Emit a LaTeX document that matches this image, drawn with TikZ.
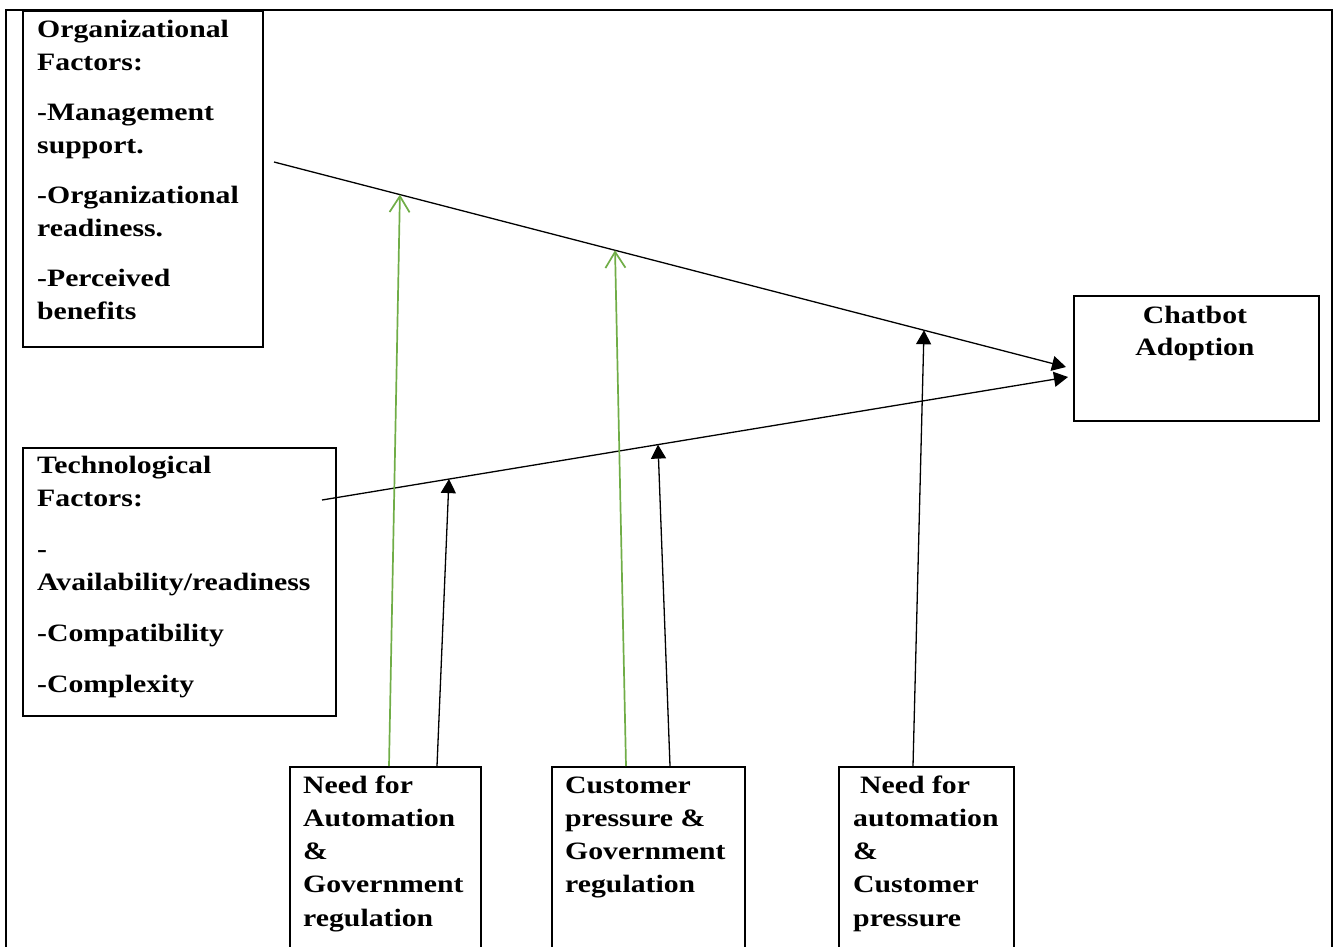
\documentclass[tikz,border=0pt]{standalone}
\usepackage{fontspec}
\setmainfont{Liberation Serif}[FakeStretch=1.19]
\usetikzlibrary{arrows.meta,calc}
\definecolor{ggreen}{RGB}{112,173,71}
\begin{document}
\begin{tikzpicture}[x=1pt,y=-1pt,
  box/.style={draw,line width=2pt,inner sep=0pt,anchor=north west},
  txt/.style={anchor=base west,inner sep=0pt},
  blk/.style={line width=1.3pt,-{Triangle[length=14pt,width=15pt]}},
  grn/.style={draw=ggreen,line width=1.7pt,-{Straight Barb[length=16pt,width=20pt,line width=1.7pt]}}]
\clip (0,0) rectangle (1335,947);
% outer frame
\draw[line width=2pt] (6,980) -- (6,10) -- (1332,10) -- (1332,980);
% boxes
\node[box,minimum width=240pt,minimum height=336pt] (org) at (22,10) {};
\node[box,minimum width=313pt,minimum height=268pt] (tech) at (22,447) {};
\node[box,minimum width=245pt,minimum height=125pt] (chat) at (1073,295) {};
\node[box,minimum width=191pt,minimum height=220pt] (b1) at (289,766) {};
\node[box,minimum width=193pt,minimum height=220pt] (b2) at (551,766) {};
\node[box,minimum width=175pt,minimum height=220pt] (b3) at (838,766) {};
% texts
\node[txt] (orgt) at (37,38) {\parbox[t]{260pt}{\raggedright\fontsize{25}{32.5}\selectfont\bfseries
Organizational\\Factors:\\[18pt]-Management\\support.\\[18pt]-Organizational\\readiness.\\[18pt]-Perceived\\benefits}};
\node[txt] (techt) at (37,473) {\parbox[t]{320pt}{\raggedright\fontsize{25}{33}\selectfont\bfseries
Technological\\Factors:\\[18pt]-\\Availability/readiness\\[18pt]-Compatibility\\[18pt]-Complexity}};
\node[anchor=base,inner sep=0pt] (chatt) at (1195,323) {\parbox[t]{220pt}{\centering\fontsize{25}{32}\selectfont\bfseries
Chatbot\\Adoption}};
\node[txt] (b1t) at (303,793) {\parbox[t]{200pt}{\raggedright\fontsize{25}{33.3}\selectfont\bfseries
Need for\\Automation\\\&\\Government\\regulation}};
\node[txt] (b2t) at (565,793) {\parbox[t]{200pt}{\raggedright\fontsize{25}{33.3}\selectfont\bfseries
Customer\\pressure \&\\Government\\regulation}};
\node[txt] (b3t) at (853,793) {\parbox[t]{200pt}{\raggedright\fontsize{25}{33.3}\selectfont\bfseries
\hspace*{7pt}Need for\\automation\\\&\\Customer\\pressure}};
% main lines
\coordinate (os) at (274,162);
\coordinate (oe) at (1066,367);
\coordinate (ts) at (322,500);
\coordinate (te) at (1068,377);
\draw[blk] (os) -- (oe);
\draw[blk] (ts) -- (te);
% moderators
\draw[grn] ($(b1.north west)+(100,0)$) -- ($(os)!0.159!(oe)$);
\draw[blk] ($(b1.north west)+(148,0)$) -- ($(ts)!0.1702!(te)$);
\draw[grn] ($(b2.north west)+(75,0)$) -- ($(os)!0.4306!(oe)$);
\draw[blk] ($(b2.north west)+(119,0)$) -- ($(ts)!0.4504!(te)$);
\draw[blk] ($(b3.north west)+(75,0)$) -- ($(os)!0.8207!(oe)$);
\end{tikzpicture}
\end{document}
